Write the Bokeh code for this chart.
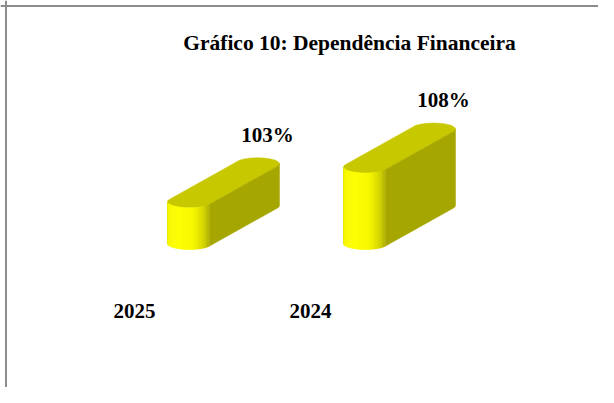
import numpy as np
from bokeh.plotting import figure
from bokeh.models import Range1d, ColumnDataSource, Span, Label
from bokeh.embed import file_html
from bokeh.resources import INLINE
from bokeh.core.properties import value

# ---- data ----
title_text = "Gráfico 10: Dependência Financeira"
categories = ["2025", "2024"]
values = [103, 108]          # percent
axis_min = 97                # value axis minimum (hidden axis)

# ---- layout / style ----
W, H = 598, 387
PXX = 176.0      # px per category step
PXY = 6.95       # px per percent point
X0_PX = 189.0    # frame px of first category (front centre)
BASE_PX = 144.0  # frame px (from bottom) of axis_min

x_start = -X0_PX / PXX
x_end = x_start + W / PXX
y_start = axis_min - BASE_PX / PXY
y_end = y_start + H / PXY

RX, RY = 22.0, 6.0     # cross-section end ellipse radii (px)
DX, DY = 68.0, 38.0    # depth vector (px)
FONT = "Liberation Serif"

p = figure(width=W, height=H, x_range=Range1d(x_start, x_end),
           y_range=Range1d(y_start, y_end), output_backend="svg",
           toolbar_location=None, min_border=0,
           x_axis_location=None, y_axis_location=None)
p.grid.visible = False
p.outline_line_color = None
p.background_fill_color = "white"
p.border_fill_color = "white"

t1 = np.arctan2(-RY * DX, RX * DY)   # lower-right tangent
t2 = t1 + np.pi                      # upper-left tangent


def ell(t):
    return RX * np.cos(t), RY * np.sin(t)


top_xs, top_ys, side_xs, side_ys = [], [], [], []
strip_xs, strip_ys, strip_cols = [], [], []

u_pts = [0.0, 0.15, 0.4, 0.65, 0.85, 1.0]
v_pts = [222, 248, 255, 248, 212, 176]
NS = 28

for i, (cat, v) in enumerate(zip(categories, values)):
    def X(px):
        return list(i + np.asarray(px) / PXX)

    def Y(lvl, py):
        return list(lvl + np.asarray(py) / PXY)

    # top face (capsule)
    tf = np.linspace(t2, t1 + 2 * np.pi, 60)
    tb = np.linspace(t1, t2, 60)
    fx, fy = ell(tf)
    bx, by = ell(tb)
    px = np.concatenate([fx, bx + DX])
    py = np.concatenate([fy, by + DY])
    top_xs.append(X(px))
    top_ys.append(Y(v, py))

    # side flat face + visible back curve
    tc = np.linspace(t1, 0, 15)
    cx, cy = ell(tc)
    sx0, sy0 = ell(t1)
    sx = np.concatenate([[sx0], cx + DX, (cx + DX)[::-1], [sx0]])
    sy_b = np.concatenate([[sy0], cy + DY])
    sy_t = np.concatenate([(cy + DY)[::-1], [sy0]])
    side_xs.append(X(sx))
    side_ys.append(Y(axis_min, sy_b) + Y(v, sy_t))

    # front curved face, shaded strips
    ts = np.linspace(np.pi, t1 + 2 * np.pi, NS + 1)
    for k in range(NS):
        ta, tb_ = ts[k], ts[k + 1] + (0.01 if k < NS - 1 else 0)
        tt = np.linspace(ta, tb_, 4)
        ex, ey = ell(tt)
        strip_xs.append(X(np.concatenate([ex, ex[::-1]])))
        strip_ys.append(Y(axis_min, ey) + Y(v, ey[::-1]))
        u = (k + 0.5) / NS
        b = int(np.interp(u, u_pts, v_pts))
        strip_cols.append("#%02x%02x%02x" % (b, b, 0))

p.patches(top_xs, top_ys, fill_color="#c8c800", line_color="#c8c800", line_width=0.5)
p.patches(side_xs, side_ys, fill_color="#a6a600", line_color="#a6a600", line_width=0.5)
p.patches(strip_xs, strip_ys, fill_color=strip_cols, line_color=strip_cols, line_width=0.6)

# value labels
lab_src = ColumnDataSource(dict(
    x=[i + DX / PXX for i in range(len(values))],
    y=[v + DY / PXY for v in values],
    t=[f"{v}%" for v in values]))
p.text(x="x", y="y", text="t", source=lab_src, x_offset=10, y_offset=-29,
       text_align="center", text_baseline="alphabetic",
       text_font=value(FONT), text_font_style="bold", text_font_size="21px",
       text_color="black")

# category labels
cat_src = ColumnDataSource(dict(x=list(range(len(categories))),
                                y=[axis_min] * len(categories), t=categories))
p.text(x="x", y="y", text="t", source=cat_src, x_offset=-55, y_offset=67,
       text_align="center", text_baseline="alphabetic",
       text_font=value(FONT), text_font_style="bold", text_font_size="21px",
       text_color="black")

# title
p.add_layout(Label(x=349, y=H - 42, x_units="screen", y_units="screen",
                   text=title_text, text_align="center",
                   text_baseline="alphabetic", text_font=FONT,
                   text_font_style="bold", text_font_size="21.5px",
                   text_color="black"))

# chart area border (left and top visible)
p.add_layout(Span(location=x_start + 5.5 / PXX, dimension="height",
                  line_color="#8c8c8c", line_width=2))
p.add_layout(Span(location=y_end - 5.5 / PXY, dimension="width",
                  line_color="#8c8c8c", line_width=2))

open("out.html", "w").write(file_html(p, INLINE))
